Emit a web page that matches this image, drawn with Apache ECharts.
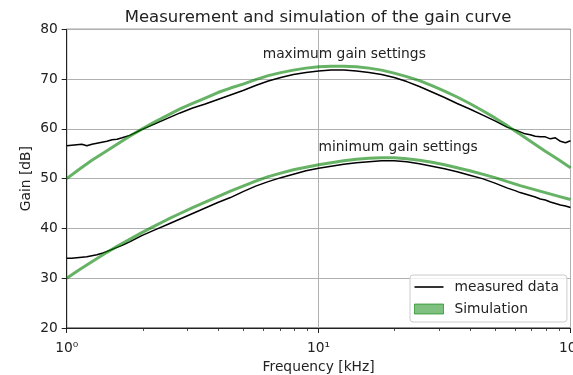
<!DOCTYPE html>
<html>
<head>
<meta charset="utf-8">
<script src="https://cdn.jsdelivr.net/npm/echarts@6/dist/echarts.min.js"></script>
<style>
  html, body { margin: 0; padding: 0; background: #fff; }
  #chart { width: 573px; height: 375px; }
</style>
</head>
<body>
<div id="chart"></div>
<script>
// Measured gain (kHz -> dB), log-spaced sweep
const freqMeasured = [
  1, 1.047, 1.096, 1.148, 1.202, 1.259, 1.318, 1.380, 1.445, 1.514, 1.585, 1.660,
  1.778, 1.995, 2.239, 2.512, 2.818, 3.162, 3.548, 3.981, 4.467, 5.012, 5.623,
  6.310, 7.079, 7.943, 8.913, 10, 11.22, 12.59, 14.13, 15.85, 17.78, 19.95, 22.39,
  25.12, 28.18, 31.62, 35.48, 39.81, 44.67, 50.12, 56.23,
  60.26, 63.10, 66.07, 69.18, 72.44, 75.86, 79.43, 83.18, 87.10, 91.20, 95.50, 100
];
const maxMeasured = [
  56.6, 56.7, 56.8, 56.9, 56.6, 56.9, 57.1, 57.3, 57.5, 57.8, 57.9, 58.2,
  58.7, 59.9, 61.0, 62.1, 63.2, 64.2, 65.0, 65.9, 66.8, 67.7, 68.7,
  69.6, 70.3, 70.9, 71.3, 71.6, 71.8, 71.8, 71.6, 71.3, 70.9, 70.3, 69.5,
  68.5, 67.4, 66.3, 65.1, 64.0, 62.8, 61.6, 60.3,
  59.8, 59.4, 59.0, 58.8, 58.5, 58.4, 58.4, 58.0, 58.2, 57.5, 57.2, 57.6
];
const minMeasured = [
  34.0, 34.0, 34.1, 34.2, 34.3, 34.5, 34.7, 35.0, 35.4, 35.8, 36.2, 36.6,
  37.3, 38.6, 39.7, 40.8, 41.9, 43.0, 44.1, 45.2, 46.2, 47.4, 48.5,
  49.4, 50.2, 50.9, 51.6, 52.1, 52.5, 52.9, 53.2, 53.4, 53.6, 53.6, 53.4,
  53.0, 52.5, 52.0, 51.4, 50.7, 50.0, 49.1, 48.1,
  47.6, 47.2, 46.9, 46.6, 46.3, 45.9, 45.7, 45.3, 45.0, 44.7, 44.5, 44.2
];

// Simulated gain on a 20-points-per-decade grid
const freqSim = [
  1, 1.122, 1.259, 1.413, 1.585, 1.778, 1.995, 2.239, 2.512, 2.818,
  3.162, 3.548, 3.981, 4.467, 5.012, 5.623, 6.310, 7.079, 7.943, 8.913,
  10, 11.22, 12.59, 14.13, 15.85, 17.78, 19.95, 22.39, 25.12, 28.18,
  31.62, 35.48, 39.81, 44.67, 50.12, 56.23, 63.10, 70.79, 79.43, 89.13, 100
];
const maxSim = [
  50.0, 51.9, 53.7, 55.3, 56.9, 58.5, 60.0, 61.4, 62.7, 64.0,
  65.1, 66.2, 67.3, 68.2, 69.0, 69.9, 70.7, 71.3, 71.8, 72.2,
  72.5, 72.6, 72.6, 72.5, 72.2, 71.8, 71.2, 70.5, 69.7, 68.7,
  67.6, 66.4, 65.1, 63.7, 62.2, 60.6, 58.9, 57.2, 55.5, 53.9, 52.2
];
const minSim = [
  30.0, 31.7, 33.3, 34.9, 36.4, 37.8, 39.2, 40.5, 41.8, 43.0,
  44.2, 45.3, 46.4, 47.5, 48.5, 49.5, 50.4, 51.1, 51.8, 52.3,
  52.8, 53.2, 53.6, 53.9, 54.1, 54.2, 54.2, 54.0, 53.7, 53.3,
  52.8, 52.2, 51.6, 50.9, 50.2, 49.4, 48.6, 47.9, 47.2, 46.5, 45.8
];

// Axis ticks
const majorTicks = [1, 10, 100];
const majorTickLabels = ['10\u2070', '10\u00B9', '10\u00B2'];
const minorTicks = [2, 3, 4, 5, 6, 7, 8, 9, 20, 30, 40, 50, 60, 70, 80, 90];
const yTicks = [20, 30, 40, 50, 60, 70, 80];

// Curve annotations: [text, frequency, gain]
const notes = [
  ['maximum gain settings', 6.0, 75.0],
  ['minimum gain settings', 10.0, 56.3]
];

const FONT = 'DejaVu Sans';
const TXT = '#222';
const SIM = 'rgba(0,128,0,0.6)';

const pairs = (xs, ys) => xs.map((x, i) => [x, ys[i]]);

const chart = echarts.init(document.getElementById('chart'), null, { renderer: 'canvas' });

const option = {
  animation: false,
  backgroundColor: '#fff',
  textStyle: { fontFamily: FONT, color: TXT },
  title: {
    text: 'Measurement and simulation of the gain curve',
    left: 313,
    textAlign: 'center',
    top: 4,
    textStyle: { fontFamily: FONT, fontSize: 16.5, fontWeight: 'normal', color: TXT }
  },
  grid: {
    left: 66.7, right: 2.5, top: 29.3, bottom: 47,
    outerBoundsMode: 'none', containLabel: false,
    show: true, borderColor: '#222', borderWidth: 1, backgroundColor: 'transparent'
  },
  legend: {
    orient: 'vertical',
    left: 410, top: 275,
    selectedMode: false,
    backgroundColor: 'rgba(255,255,255,0.8)',
    borderColor: '#ccc', borderWidth: 1, borderRadius: 3,
    padding: [5, 8, 6, 4],
    itemWidth: 29, itemHeight: 10, itemGap: 8,
    textStyle: { fontFamily: FONT, fontSize: 13.8, color: TXT, padding: [0, 0, 0, 6] },
    data: [
      { name: 'measured data', icon: 'path://M0,0h29v1.6h-29z', itemStyle: { color: '#000' } },
      { name: 'Simulation', icon: 'rect', itemStyle: { color: 'rgba(0,128,0,0.5)', borderColor: 'rgba(0,128,0,0.6)', borderWidth: 1 } }
    ]
  },
  xAxis: {
    type: 'log', logBase: 10, min: 1, max: 100,
    name: 'Frequency [kHz]', nameLocation: 'middle', nameGap: 32, nameMoveOverlap: false,
    nameTextStyle: { fontFamily: FONT, fontSize: 13.8, color: TXT },
    axisLine: { show: true, lineStyle: { color: '#222', width: 1 } },
    axisTick: { show: true, length: 5, lineStyle: { color: '#222', width: 1 } },
    axisLabel: {
      margin: 13, fontFamily: FONT, fontSize: 13.8, color: TXT,
      formatter: v => majorTickLabels[majorTicks.indexOf(Math.round(v))] || ''
    },
    splitLine: { show: true, lineStyle: { color: '#b0b0b0', width: 1 } }
  },
  yAxis: {
    type: 'value', min: 20, max: 80, interval: 10,
    name: 'Gain [dB]', nameLocation: 'middle', nameGap: 33, nameMoveOverlap: false,
    nameTextStyle: { fontFamily: FONT, fontSize: 13.8, color: TXT },
    axisLine: { show: true, lineStyle: { color: '#222', width: 1 } },
    axisTick: { show: true, length: 5, lineStyle: { color: '#222', width: 1 } },
    axisLabel: { margin: 9, fontFamily: FONT, fontSize: 13.8, color: TXT,
      formatter: v => (yTicks.indexOf(v) >= 0 ? String(v) : '') },
    splitLine: { show: true, lineStyle: { color: '#b0b0b0', width: 1 } }
  },
  series: [
    { name: 'measured data', type: 'line', symbol: 'none', z: 3,
      lineStyle: { color: '#000', width: 1.5 }, itemStyle: { color: '#000' },
      data: pairs(freqMeasured, maxMeasured) },
    { name: 'Simulation', type: 'line', symbol: 'none', z: 4,
      lineStyle: { color: SIM, width: 3 }, itemStyle: { color: SIM },
      data: pairs(freqSim, maxSim) },
    { name: 'measured data', type: 'line', symbol: 'none', z: 3,
      lineStyle: { color: '#000', width: 1.5 }, itemStyle: { color: '#000' },
      data: pairs(freqMeasured, minMeasured) },
    { name: 'Simulation', type: 'line', symbol: 'none', z: 4,
      lineStyle: { color: SIM, width: 3 }, itemStyle: { color: SIM },
      data: pairs(freqSim, minSim) }
  ]
};

chart.setOption(option);

// Curve annotations at their data coordinates, plus the minor log ticks
const toPx = (f, g) => chart.convertToPixel({ xAxisIndex: 0, yAxisIndex: 0 }, [f, g]);
const noteGraphics = notes.map(([text, f, g]) => {
  const p = toPx(f, g);
  return {
    type: 'text', x: p[0], y: p[1], z: 10,
    style: { text, fontFamily: FONT, fontSize: 13.8, fill: TXT, align: 'left', verticalAlign: 'middle' }
  };
});
const minorTickGraphics = minorTicks.map(f => {
  const p = toPx(f, 20);
  return {
    type: 'line', z: 10,
    shape: { x1: Math.round(p[0]) + 0.5, y1: p[1], x2: Math.round(p[0]) + 0.5, y2: p[1] + 3 },
    style: { stroke: '#222', lineWidth: 0.8 }
  };
});
chart.setOption({ graphic: noteGraphics.concat(minorTickGraphics) });
</script>
</body>
</html>
